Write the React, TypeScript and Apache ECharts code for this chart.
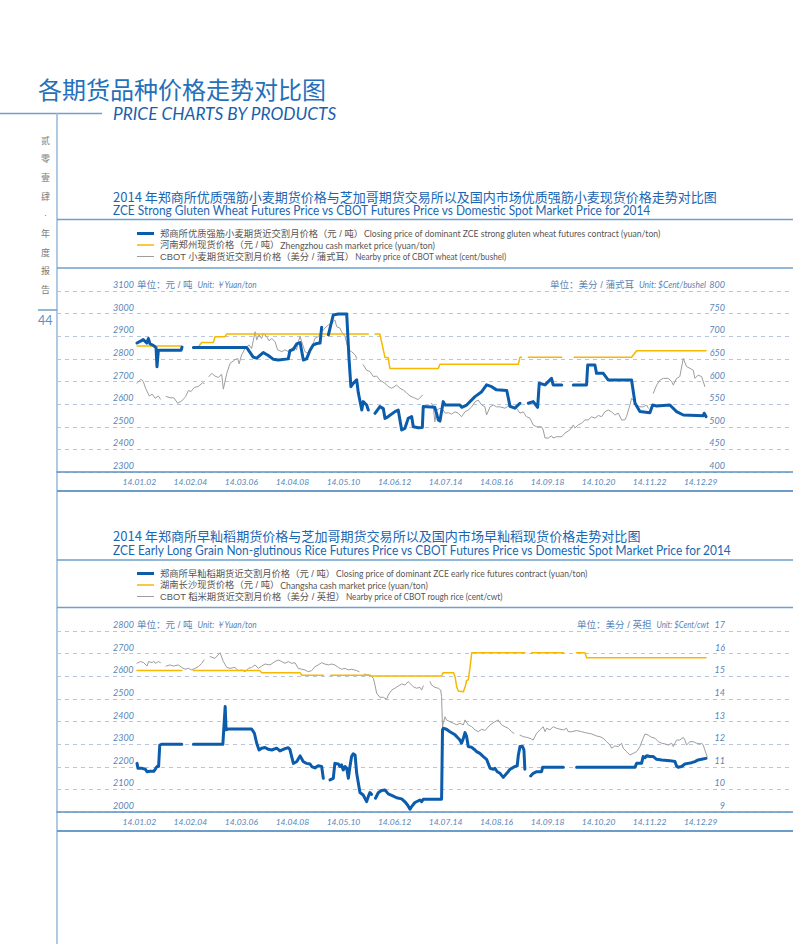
import React, { useEffect, useRef } from 'react';
import * as echarts from 'echarts';

// ---------- data ----------
const DATE_LABELS = ['14.01.02', '14.02.04', '14.03.06', '14.04.08', '14.05.10', '14.06.12', '14.07.14', '14.08.16', '14.09.18', '14.10.20', '14.11.22', '14.12.29'];
// trading-day index at which each date label sits
const DATE_LABEL_DAYS = [1, 23, 45, 67, 89, 111, 133, 155, 177, 199, 221, 243];
const X_MIN = -34.5;
const X_MAX = 282.8;

type Pt = [number, number] | null;

// Chart 1 – wheat. ZCE strong gluten wheat futures (yuan/ton)
const WHEAT_ZCE: Pt[] = [
  [0, 2870], [2.7, 2885], [4.2, 2870], [4.9, 2890], [5.6, 2866], [7, 2860], [8.2, 2850], [8.6, 2765], [9.2, 2838], [19, 2838], [19.4, 2852], null,
  [24.3, 2850], [47.3, 2850], [50.1, 2808], [51.6, 2803], [54.4, 2828], [56.6, 2815], [58.8, 2798], [60.9, 2795], [65.2, 2800], [65.9, 2836], [67.4, 2842], [68.8, 2866], [70.3, 2872], [71.7, 2795], [73.1, 2800], [74.6, 2838], [76, 2862], [77.5, 2868], [78.9, 2870], [79.6, 2940], null,
  [82.5, 2906], [84.6, 2994], [86.8, 2998], [90.4, 2998], [91.4, 2800], [92.2, 2677], [93.2, 2692], [94.7, 2707], [95.4, 2650], [96.9, 2574], [97.5, 2611], [99, 2596], [99.7, 2574], null,
  [102.6, 2559], [104.7, 2589], [106.2, 2580], [106.9, 2537], [108.3, 2545], [111.2, 2567], [112.6, 2574], [114.1, 2486], [115.5, 2493], [116.9, 2537], [118.4, 2545], [119.1, 2500], [121.3, 2496], [123, 2497], [123.4, 2589], [128.4, 2586], [129.9, 2530], [130.6, 2525], [132, 2611], [132.8, 2596], [139.2, 2596], [140, 2586], [142.1, 2596], [145.7, 2633], [148.6, 2655], [150.7, 2685], [152.9, 2677], [155, 2663], [159.4, 2660], [160.8, 2590], [162.9, 2582], [165.1, 2604], null,
  [168.7, 2604], [170.8, 2611], [172.7, 2586], [173.4, 2692], [175.9, 2685], [178.7, 2714], [179.4, 2685], [183.1, 2685], null,
  [188.1, 2685], [193.8, 2685], [194.3, 2773], [197.4, 2773], [198.1, 2736], [201, 2736], [203.1, 2707], [213.2, 2707], [214.7, 2604], [216.8, 2567], [221.1, 2562], [222.3, 2596], [224, 2592], [229.7, 2596], [232.6, 2567], [235.5, 2552], [244.1, 2549], [244.5, 2560], [245.3, 2545],
];

// Zhengzhou cash market price (yuan/ton)
const WHEAT_SPOT: Pt[] = [
  [0, 2857], [19, 2857], null,
  [26.7, 2857], [27.9, 2872], [32.9, 2872], [33.6, 2898], [37.9, 2898], [38.7, 2910], [99.7, 2910], null,
  [102.6, 2910], [104.7, 2910], [106.9, 2807], [108.3, 2805], [109, 2758], [129.9, 2758], [130.6, 2776], [164.4, 2776], [165.1, 2807], [165.8, 2807], null,
  [168.7, 2807], [183.1, 2807], null,
  [188.4, 2807], [213.2, 2807], [215.4, 2836], [245.3, 2836],
];

// CBOT wheat nearby (cent/bushel)
const WHEAT_CBOT: Pt[] = [
  [0, 596], [1.7, 605], [2.7, 600], [3.7, 585], [5.3, 568], [6.6, 572], [7.8, 563], [9.2, 568], [10.1, 561], null,
  [12.5, 567], [14.2, 564], [15.9, 564], [17.5, 552], [19.3, 557], [21, 567], [22.1, 580], [23.3, 578], [24.7, 587], [26.4, 589], [28.2, 597], [28.9, 596], null,
  [31, 611], [32.2, 618], [33.6, 612], [35, 609], [36.5, 616], [37.2, 583], [38.7, 618], [40.1, 640], [42.2, 648], [43.4, 651], [44, 639], [45.1, 659], [46.6, 673], [48.3, 681], [49.4, 673], [50.9, 710], [51.6, 692], [52.6, 703], [53.7, 695], [54.4, 706], [55.9, 699], [56.9, 690], [58.1, 695], [59.5, 688], [60.6, 670], [62.4, 666], [63.8, 670], [65.2, 666], [66.7, 673], [68.1, 677], [68.8, 670], [69.5, 688], [70.3, 699], [71, 688], [72.4, 666], [73.8, 662], [75.3, 673], [76.7, 695], [78.1, 699], [79.6, 710], [81, 718], [82.5, 725], [83.9, 729], [85.3, 736], [86.1, 721], [87.5, 718], [88.2, 710], [89.7, 699], [91.1, 670], [92.5, 666], [94, 659], [94.7, 651], null,
  [97.5, 637], [99, 625], [100.4, 622], [101.9, 611], [103.3, 612], [104.7, 603], [106.9, 596], [108.3, 589], [109.8, 585], [111.9, 592], [113.4, 585], [114.8, 581], [116.2, 575], [117.7, 568], [119.1, 565], [121.2, 560], [123.1, 570], null,
  [127, 552], [127.7, 544], [128.4, 511], [129.2, 537], [130.6, 541], [132, 537], [132.8, 530], [134.2, 531], [135.6, 528], [137.1, 533], [138.5, 530], [139.9, 522], [141.4, 533], [142.8, 537], [144.3, 544], [145.7, 555], [147.1, 559], [148.6, 548], [150, 544], [150.7, 526], [152.2, 544], [153.6, 548], [155, 544], [156.5, 544], [158.6, 541], [160.8, 548], [162.2, 544], [163.6, 541], [165.1, 530], [166.5, 533], [167.9, 522], [169.4, 519], [170.8, 504], [172.3, 500], [174.4, 500], [175.1, 493], [175.9, 475], [177.3, 475], [178.7, 480], [179.4, 475], [180.9, 478], [183.1, 478], [184.5, 486], [186.6, 493], [188.1, 504], [188.8, 497], [190.2, 504], [191.7, 508], [193.1, 515], [194.5, 515], [196, 522], [197.4, 519], [198.9, 525], [200.3, 522], [201.7, 533], [203.1, 537], [204.6, 533], [206, 526], [207.5, 530], [208.9, 515], [210.3, 515], [211, 522], [212.5, 548], [213.2, 563], [213.9, 559], [215.4, 548], [216.8, 544], [218.2, 544], [219.7, 548], [220.4, 541], null,
  [222.6, 574], [224, 592], [225.4, 603], [226.9, 607], [229, 607], [230.5, 600], [231.2, 592], [232.6, 607], [234, 611], [235.5, 651], [236.9, 633], [238.4, 629], [239.8, 625], [240.5, 607], [241.9, 614], [243.4, 611], [244.8, 589],
];

// Chart 2 – early long grain non-glutinous rice. ZCE futures (yuan/ton)
const RICE_ZCE: Pt[] = [
  [0, 2215], [0.4, 2193], [2.2, 2193], [3.6, 2189], [4.3, 2178], [5.7, 2180], [7.2, 2180], [7.9, 2190], [8.6, 2201], [9.3, 2201], [9.8, 2296], [10.5, 2299], [19.3, 2299], null,
  [24.3, 2299], [37, 2299], [38, 2466], [38.4, 2363], [39.4, 2367], [49.4, 2367], [50.6, 2348], [51.6, 2304], [52.6, 2274], [53.7, 2282], [55.2, 2285], [56.6, 2277], [58.1, 2274], [60.2, 2282], [61.6, 2270], [63.8, 2280], [65.2, 2284], [65.9, 2277], [67.4, 2215], [68.8, 2222], [70.3, 2248], [71.7, 2222], [73.1, 2215], [74.6, 2212], [75.3, 2201], [76.7, 2195], [78.1, 2204], [79.6, 2201], [80.3, 2149], null,
  [83.2, 2142], [84.6, 2149], [85.3, 2215], [86.8, 2212], [87.5, 2201], [88.2, 2208], [88.9, 2186], [89.7, 2201], [90.4, 2193], [91.1, 2149], [91.8, 2201], [92.5, 2245], [93.2, 2257], [94, 2252], [94.7, 2171], [96.1, 2086], [97.5, 2075], [99, 2046], [99.7, 2068], [100.4, 2086], [101.1, 2078], null,
  [102.8, 2061], [104, 2085], [105.4, 2095], [106.9, 2097], [108.3, 2080], [110.5, 2070], [111.9, 2063], [114.1, 2058], [115.5, 2045], [116.7, 2030], [117.7, 2012], [118.4, 2024], [119.8, 2042], [122, 2053], [122.7, 2046], [123.4, 2056], [131.3, 2056], [131.7, 2363], [132, 2370], [133.4, 2366], [134.9, 2355], [137.1, 2341], [138.5, 2326], [139.2, 2318], [139.9, 2304], [140.7, 2326], [141.4, 2351], [142.1, 2333], [142.8, 2289], [144.3, 2286], [145.7, 2274], [146.4, 2267], [147.8, 2259], [149.3, 2245], [150.7, 2233], [152.2, 2193], [153.6, 2189], [154.3, 2193], [155.3, 2178], [156.5, 2171], [157.9, 2153], [159.4, 2171], [160.8, 2189], [161.5, 2193], [162.9, 2201], [163.9, 2204], [164.4, 2252], [165.1, 2289], [166.2, 2289], [166.8, 2274], [167.2, 2189], null,
  [169.7, 2159], [170.8, 2171], [172.3, 2178], [174.4, 2178], [174.9, 2198], [183.8, 2198], null,
  [189.5, 2198], [214.7, 2198], [215.4, 2215], [217.5, 2215], [218.2, 2245], [219, 2240], [219.7, 2249], [221.1, 2245], [222.6, 2245], [224, 2233], [226.2, 2230], [229.7, 2227], [231.9, 2223], [232.6, 2203], [233.3, 2198], [234.8, 2201], [236.2, 2212], [237.6, 2215], [239.1, 2218], [240.5, 2223], [241.9, 2230], [243.4, 2233], [245.3, 2237],
];

// Changsha cash market price (yuan/ton)
const RICE_SPOT: Pt[] = [
  [0, 2625], [19.3, 2625], null,
  [24.3, 2625], [53, 2625], [53.7, 2616], [70.3, 2616], [71, 2604], [80.3, 2604], null,
  [83.5, 2604], [100.4, 2604], [101.1, 2601], [131.3, 2601], [132, 2616], [136.4, 2616], [137.1, 2598], [137.8, 2554], [138.5, 2535], [140.7, 2532], [141.4, 2551], [142.1, 2581], [142.8, 2584], [143.6, 2642], [144.3, 2704], [167.2, 2704], null,
  [170.1, 2704], [184, 2704], null,
  [189.5, 2704], [193.1, 2704], [193.8, 2682], [245.3, 2682],
];

// CBOT rough rice nearby (cent/cwt)
const RICE_CBOT: Pt[] = [
  [0, 15.57], [1.4, 15.65], [2.9, 15.6], [4.3, 15.45], [5, 15.65], [6.5, 15.6], [7.2, 15.67], [7.9, 15.57], [9.3, 15.65], [10.1, 15.6], null,
  [12.5, 15.45], [14.2, 15.5], [15.7, 15.45], [17.8, 15.5], [19.3, 15.39], [20.7, 15.31], [22.1, 15.35], [23.6, 15.28], [25, 15.35], [26.4, 15.42], [27.9, 15.57], [28.9, 15.72], null,
  [31.5, 15.87], [33.6, 15.79], [35.8, 16.04], [37.2, 15.65], [38.7, 15.39], [40.1, 15.35], [42.2, 15.39], [43.7, 15.25], [45.1, 15.28], [46.6, 15.2], [48, 15.35], [49.4, 15.39], [50.9, 15.5], [52.3, 15.35], [53.7, 15.45], [55.2, 15.54], [57.3, 15.5], [59.5, 15.65], [60.9, 15.72], [62.4, 15.65], [63.8, 15.57], [65.2, 15.65], [66.7, 15.57], [68.1, 15.6], [69.5, 15.35], [71, 15.31], [72.4, 15.28], [73.8, 15.2], [75.3, 15.25], [76.7, 15.42], [78.1, 15.5], [79.6, 15.6], [81, 15.54], [82.5, 15.5], [83.9, 15.54], [85.3, 15.5], [86.8, 15.39], [88.2, 15.31], [89.7, 15.35], [91.1, 15.28], [92.5, 15.31], [94.7, 15.25], [95.7, 15.2], null,
  [98, 15.1], [99, 15.06], [100.4, 15.06], [101.9, 14.91], [102.6, 14.61], [103.3, 14.25], [104.7, 14.07], [106.2, 14.07], [107.6, 13.98], [108.3, 14.17], [109.8, 14.39], [111.2, 14.47], [112.6, 14.57], [114.1, 14.66], [115.5, 14.61], [116.9, 14.76], [118.4, 14.61], [119.1, 14.54], [120.5, 14.47], [122, 14.51], [122.7, 14.39], [123.4, 14.57], null,
  [126.3, 14.76], [127, 14.61], [128.4, 14.51], [129.9, 14.47], [130.9, 14.39], [131.3, 14.1], [131.7, 12.77], [132, 12.92], [132.8, 13.21], [133.4, 13.07], [134.9, 12.99], [136.4, 12.92], [137.8, 12.85], [139.2, 12.92], [140.7, 12.85], [141.4, 13.07], [142.8, 12.85], [144.3, 12.77], [145.7, 12.63], [147.1, 12.55], [148.6, 12.66], [150, 12.6], [152.2, 12.85], [154.3, 12.99], [155.7, 13.07], [157.2, 12.85], [158.6, 12.77], [160, 12.7], [161.5, 12.55], [162.5, 12.48], null,
  [165.1, 12.4], [166.5, 12.33], [167.9, 12.3], [169.4, 12.26], [170.8, 12.18], [172.3, 12.48], [173.7, 12.63], [175.1, 12.77], [175.9, 12.55], [176.6, 12.7], [178, 12.63], [179.4, 12.77], [180.9, 12.7], [182.3, 12.66], [183.8, 12.63], [185.2, 12.7], [185.9, 12.55], [187.4, 12.55], [189.5, 12.6], [191.7, 12.55], [193.1, 12.51], [194.5, 12.48], [196, 12.45], [198.1, 12.36], [199.6, 12.33], [201, 12.26], [202.4, 12.11], [203.9, 11.96], [204.6, 11.82], [206, 11.92], [207.5, 11.89], [208.9, 12.04], [209.6, 11.82], [211, 11.67], [212.5, 11.52], [213.9, 11.59], [215.4, 11.67], [216.8, 11.89], [218.2, 12.26], [219, 12.45], [220.4, 12.4], [221.8, 12.3], [223.3, 12.26], [224.7, 12.11], [226.2, 12.04], [227.6, 12.01], [229, 11.96], [230.5, 12.04], [231.2, 11.89], [232.6, 12.18], [234, 12.18], [235.5, 12.3], [236.2, 12.18], [236.9, 11.96], [238.4, 12.11], [239.8, 12.11], [241.2, 12.04], [242.7, 12.01], [243.4, 12.04], [244.1, 11.96], [244.8, 11.74], [245.8, 11.45],
];

// axis ranges
const WHEAT_LEFT = { min: 2300, max: 3100, interval: 100 };
const WHEAT_RIGHT = { min: 400, max: 800, interval: 50 };
const RICE_LEFT = { min: 2000, max: 2800, interval: 100 };
const RICE_RIGHT = { min: 9, max: 17, interval: 1 };

// texts
const PAGE_TITLE = '各期货品种价格走势对比图';
const PAGE_SUBTITLE = 'PRICE CHARTS BY PRODUCTS';
const SIDE_TEXT = ['贰', '零', '壹', '肆', '·', '年', '度', '报', '告'];
const PAGE_NO = '44';
const WHEAT_TITLE_CN = '2014 年郑商所优质强筋小麦期货价格与芝加哥期货交易所以及国内市场优质强筋小麦现货价格走势对比图';
const WHEAT_TITLE_EN = 'ZCE Strong Gluten Wheat Futures Price vs CBOT Futures Price vs Domestic Spot Market Price for 2014';
const RICE_TITLE_CN = '2014 年郑商所早籼稻期货价格与芝加哥期货交易所以及国内市场早籼稻现货价格走势对比图';
const RICE_TITLE_EN = 'ZCE Early Long Grain Non-glutinous Rice Futures Price vs CBOT Futures Price vs Domestic Spot Market Price for 2014';
const WHEAT_LEGEND: [string, string][] = [
  ['郑商所优质强筋小麦期货近交割月价格（元 / 吨）', 'Closing price of dominant ZCE strong gluten wheat futures contract (yuan/ton)'],
  ['河南郑州现货价格（元 / 吨）', 'Zhengzhou cash market price (yuan/ton)'],
  ['CBOT 小麦期货近交割月价格（美分 / 蒲式耳）', 'Nearby price of CBOT wheat (cent/bushel)'],
];
const RICE_LEGEND: [string, string][] = [
  ['郑商所早籼稻期货近交割月价格（元 / 吨）', 'Closing price of dominant ZCE early rice futures contract (yuan/ton)'],
  ['湖南长沙现货价格（元 / 吨）', 'Changsha cash market price (yuan/ton)'],
  ['CBOT 稻米期货近交割月价格（美分 / 英担）', 'Nearby price of CBOT rough rice (cent/cwt)'],
];
const UNIT_LEFT: [string, string] = ['单位：元 / 吨', 'Unit: ￥Yuan/ton'];
const WHEAT_UNIT_RIGHT: [string, string] = ['单位：美分 / 蒲式耳', 'Unit: $Cent/bushel'];
const RICE_UNIT_RIGHT: [string, string] = ['单位：美分 / 英担', 'Unit: $Cent/cwt'];

// ---------- styling ----------
const BLUE = '#0b5cab';
const YELLOW = '#f6b800';
const GREY = '#9d9d9d';
const TITLE_BLUE = '#1a66b3';
const LABEL_BLUE = '#5785b8';
const RULE = '#6f9fca';
const GRID_DASH = '#b9c5da';
const CJK = '"Noto Sans CJK SC", "Noto Sans", sans-serif';
// compact-metric primary font, CJK glyphs fall back to Noto Sans CJK
const CJK_TIGHT = '"Liberation Sans", "Noto Sans CJK SC", sans-serif';
const LAT = 'Lato, "Noto Sans", sans-serif';

let mctx: CanvasRenderingContext2D | null = null;
function measure(text: string, size: number, family: string, style = 'normal', weight = 'normal') {
  if (!mctx) mctx = document.createElement('canvas').getContext('2d');
  if (!mctx) return text.length * size * 0.55;
  mctx.font = `${style} ${weight} ${size}px ${family}`;
  return mctx.measureText(text).width;
}

interface TOpts { size: number; family: string; fill: string; style?: string; weight?: string; align?: string; }
function txt(text: string, x: number, y: number, o: TOpts, scaleX = 1) {
  return {
    type: 'text', x, y, scaleX, silent: true,
    style: {
      text, fontSize: o.size, fontFamily: o.family, fontStyle: o.style || 'normal', fontWeight: o.weight || 'normal',
      fill: o.fill, align: o.align || 'left', verticalAlign: 'middle',
    },
  };
}
function fitTxt(text: string, x: number, y: number, width: number, o: TOpts) {
  const w = measure(text, o.size, o.family, o.style, o.weight);
  return txt(text, x, y, o, w > 0 ? width / w : 1);
}
// CJK part at natural width, latin part squeezed to end at xEnd
function mixed(parts: [string, string], x: number, y: number, xEnd: number, cjk: TOpts, lat: TOpts, gap = 2) {
  const wc = measure(parts[0], cjk.size, cjk.family);
  const xs = x + wc + gap;
  return [txt(parts[0], x, y, cjk), fitTxt(parts[1], xs, y, xEnd - xs, lat)];
}
function hline(x1: number, x2: number, y: number, color: string, width: number) {
  return { type: 'line', silent: true, shape: { x1, y1: y, x2, y2: y }, style: { stroke: color, lineWidth: width } };
}

function toData(arr: Pt[]) {
  const out: any[] = [];
  arr.forEach((p, i) => {
    if (p === null) {
      const a = arr[i - 1] as [number, number];
      const b = arr[i + 1] as [number, number];
      out.push([(a[0] + b[0]) / 2, '-']);
    } else out.push(p);
  });
  return out;
}

export default function App() {
  const ref = useRef<HTMLDivElement>(null);
  useEffect(() => {
    if (!ref.current) return;
    const chart = echarts.init(ref.current, undefined, { renderer: 'svg', width: 793, height: 944 });

    const xAxisBase = (gridIndex: number) => ({
      gridIndex, type: 'value', min: X_MIN, max: X_MAX,
      axisLine: { show: true, onZero: false, lineStyle: { color: '#5d93c3', width: 1.5 } },
      axisTick: { show: false },
      splitLine: { show: false },
      axisLabel: {
        customValues: DATE_LABEL_DAYS,
        formatter: (v: number) => DATE_LABELS[Math.round((v - DATE_LABEL_DAYS[0]) / 22)] ?? '',
        color: LABEL_BLUE, fontSize: 8.5, fontFamily: LAT, fontStyle: 'italic', margin: 5,
      },
    });
    const numFmt = (v: number) => String(v);
    const yLeft = (gridIndex: number, r: any) => ({
      gridIndex, type: 'value', position: 'left', ...r,
      axisLine: { show: false }, axisTick: { show: false },
      splitLine: { show: true, lineStyle: { color: GRID_DASH, type: [4, 4], width: 1 } },
      axisLabel: { inside: true, margin: 56, formatter: numFmt, color: LABEL_BLUE, fontSize: 9, fontFamily: LAT, fontStyle: 'italic', verticalAlign: 'bottom', padding: [0, 0, 2, 0] },
    });
    const yRight = (gridIndex: number, r: any) => ({
      gridIndex, type: 'value', position: 'right', ...r,
      axisLine: { show: false }, axisTick: { show: false }, splitLine: { show: false },
      axisLabel: { inside: true, margin: 68, align: 'right', formatter: numFmt, color: LABEL_BLUE, fontSize: 9, fontFamily: LAT, fontStyle: 'italic', verticalAlign: 'bottom', padding: [0, 0, 2, 0] },
    });
    const line = (data: Pt[], xi: number, yi: number, color: string, width: number, z: number) => ({
      type: 'line', xAxisIndex: xi, yAxisIndex: yi, data: toData(data), showSymbol: false, symbol: 'none',
      connectNulls: false, silent: true, z,
      lineStyle: { color, width, cap: 'round', join: 'round' },
    });

    const cjkTitle: TOpts = { size: 13, family: CJK, fill: TITLE_BLUE };
    const latTitle: TOpts = { size: 13, family: LAT, fill: TITLE_BLUE };
    const cjkLeg: TOpts = { size: 9.3, family: CJK_TIGHT, fill: '#555' };
    const latLeg: TOpts = { size: 9.5, family: LAT, fill: '#555' };
    const cjkUnit: TOpts = { size: 9.5, family: CJK_TIGHT, fill: LABEL_BLUE };
    const latUnit: TOpts = { size: 9.5, family: LAT, fill: LABEL_BLUE, style: 'italic' };

    const legendBlock = (items: [string, string][], ys: number[], ends: number[]) => {
      const colors = [BLUE, YELLOW, GREY];
      const widths = [3, 1.5, 1];
      const els: any[] = [];
      items.forEach((it, i) => {
        els.push(hline(137, 154, ys[i], colors[i], widths[i]));
        els.push(...mixed(it, 160, ys[i], ends[i], cjkLeg, latLeg, 1));
      });
      return els;
    };

    const graphic: any[] = [
      txt(PAGE_TITLE, 38, 88, { size: 24, family: CJK, fill: '#2470ba' }),
      hline(0, 102, 113.5, RULE, 1.5),
      fitTxt(PAGE_SUBTITLE, 113, 114, 224, { size: 17, family: LAT, fill: '#1b5faa', style: 'italic' }),
      { type: 'line', silent: true, shape: { x1: 57, y1: 113, x2: 57, y2: 944 }, style: { stroke: '#97b8db', lineWidth: 1.5 } },
      ...SIDE_TEXT.map((c, i) => txt(c, 45.5, 140.5 + i * 18.7, { size: 9, family: CJK_TIGHT, fill: '#7a7a7a', align: 'center' })),
      hline(38, 57, 310, RULE, 1.5),
      txt(PAGE_NO, 38, 320, { size: 12.5, family: LAT, fill: '#5f8fc2' }),

      // wheat block
      fitTxt(WHEAT_TITLE_CN, 113, 196, 604, cjkTitle),
      fitTxt(WHEAT_TITLE_EN, 113, 210, 539, latTitle),
      hline(57, 793, 219.5, RULE, 1.3),
      ...legendBlock(WHEAT_LEGEND, [233.5, 245, 256.5], [661, 435, 507]),
      hline(57, 793, 268, RULE, 1.3),
      ...mixed(UNIT_LEFT, 137, 284.5, 257, cjkUnit, latUnit, 5),
      ...mixed(WHEAT_UNIT_RIGHT, 550, 284.5, 706, cjkUnit, latUnit, 5),
      hline(57, 793, 491, '#6b9dc8', 2),

      // rice block
      fitTxt(RICE_TITLE_CN, 113, 536, 528, cjkTitle),
      fitTxt(RICE_TITLE_EN, 113, 550, 620, latTitle),
      hline(57, 793, 560, RULE, 1.3),
      ...legendBlock(RICE_LEGEND, [573.5, 585, 596.5], [588, 428, 503]),
      hline(57, 793, 607.5, RULE, 1.3),
      ...mixed(UNIT_LEFT, 137, 624.5, 257, cjkUnit, latUnit, 5),
      ...mixed(RICE_UNIT_RIGHT, 577, 624.5, 709, cjkUnit, latUnit, 5),
      hline(57, 793, 831, '#6b9dc8', 2),
    ];

    chart.setOption({
      animation: false,
      backgroundColor: '#ffffff',
      grid: [
        { left: 57, right: 0, top: 291, height: 181 },
        { left: 57, right: 0, top: 631, height: 181 },
      ],
      xAxis: [xAxisBase(0), xAxisBase(1)],
      yAxis: [yLeft(0, WHEAT_LEFT), yRight(0, WHEAT_RIGHT), yLeft(1, RICE_LEFT), yRight(1, RICE_RIGHT)],
      series: [
        line(WHEAT_CBOT, 0, 1, GREY, 1, 2),
        line(WHEAT_SPOT, 0, 0, YELLOW, 1.5, 3),
        line(WHEAT_ZCE, 0, 0, BLUE, 3, 4),
        line(RICE_CBOT, 1, 3, GREY, 1, 2),
        line(RICE_SPOT, 1, 2, YELLOW, 1.5, 3),
        line(RICE_ZCE, 1, 2, BLUE, 3, 4),
      ],
      graphic,
    });
    return () => chart.dispose();
  }, []);
  return <div ref={ref} style={{ position: 'absolute', left: 0, top: 0, width: 793, height: 944, background: '#fff' }} />;
}
